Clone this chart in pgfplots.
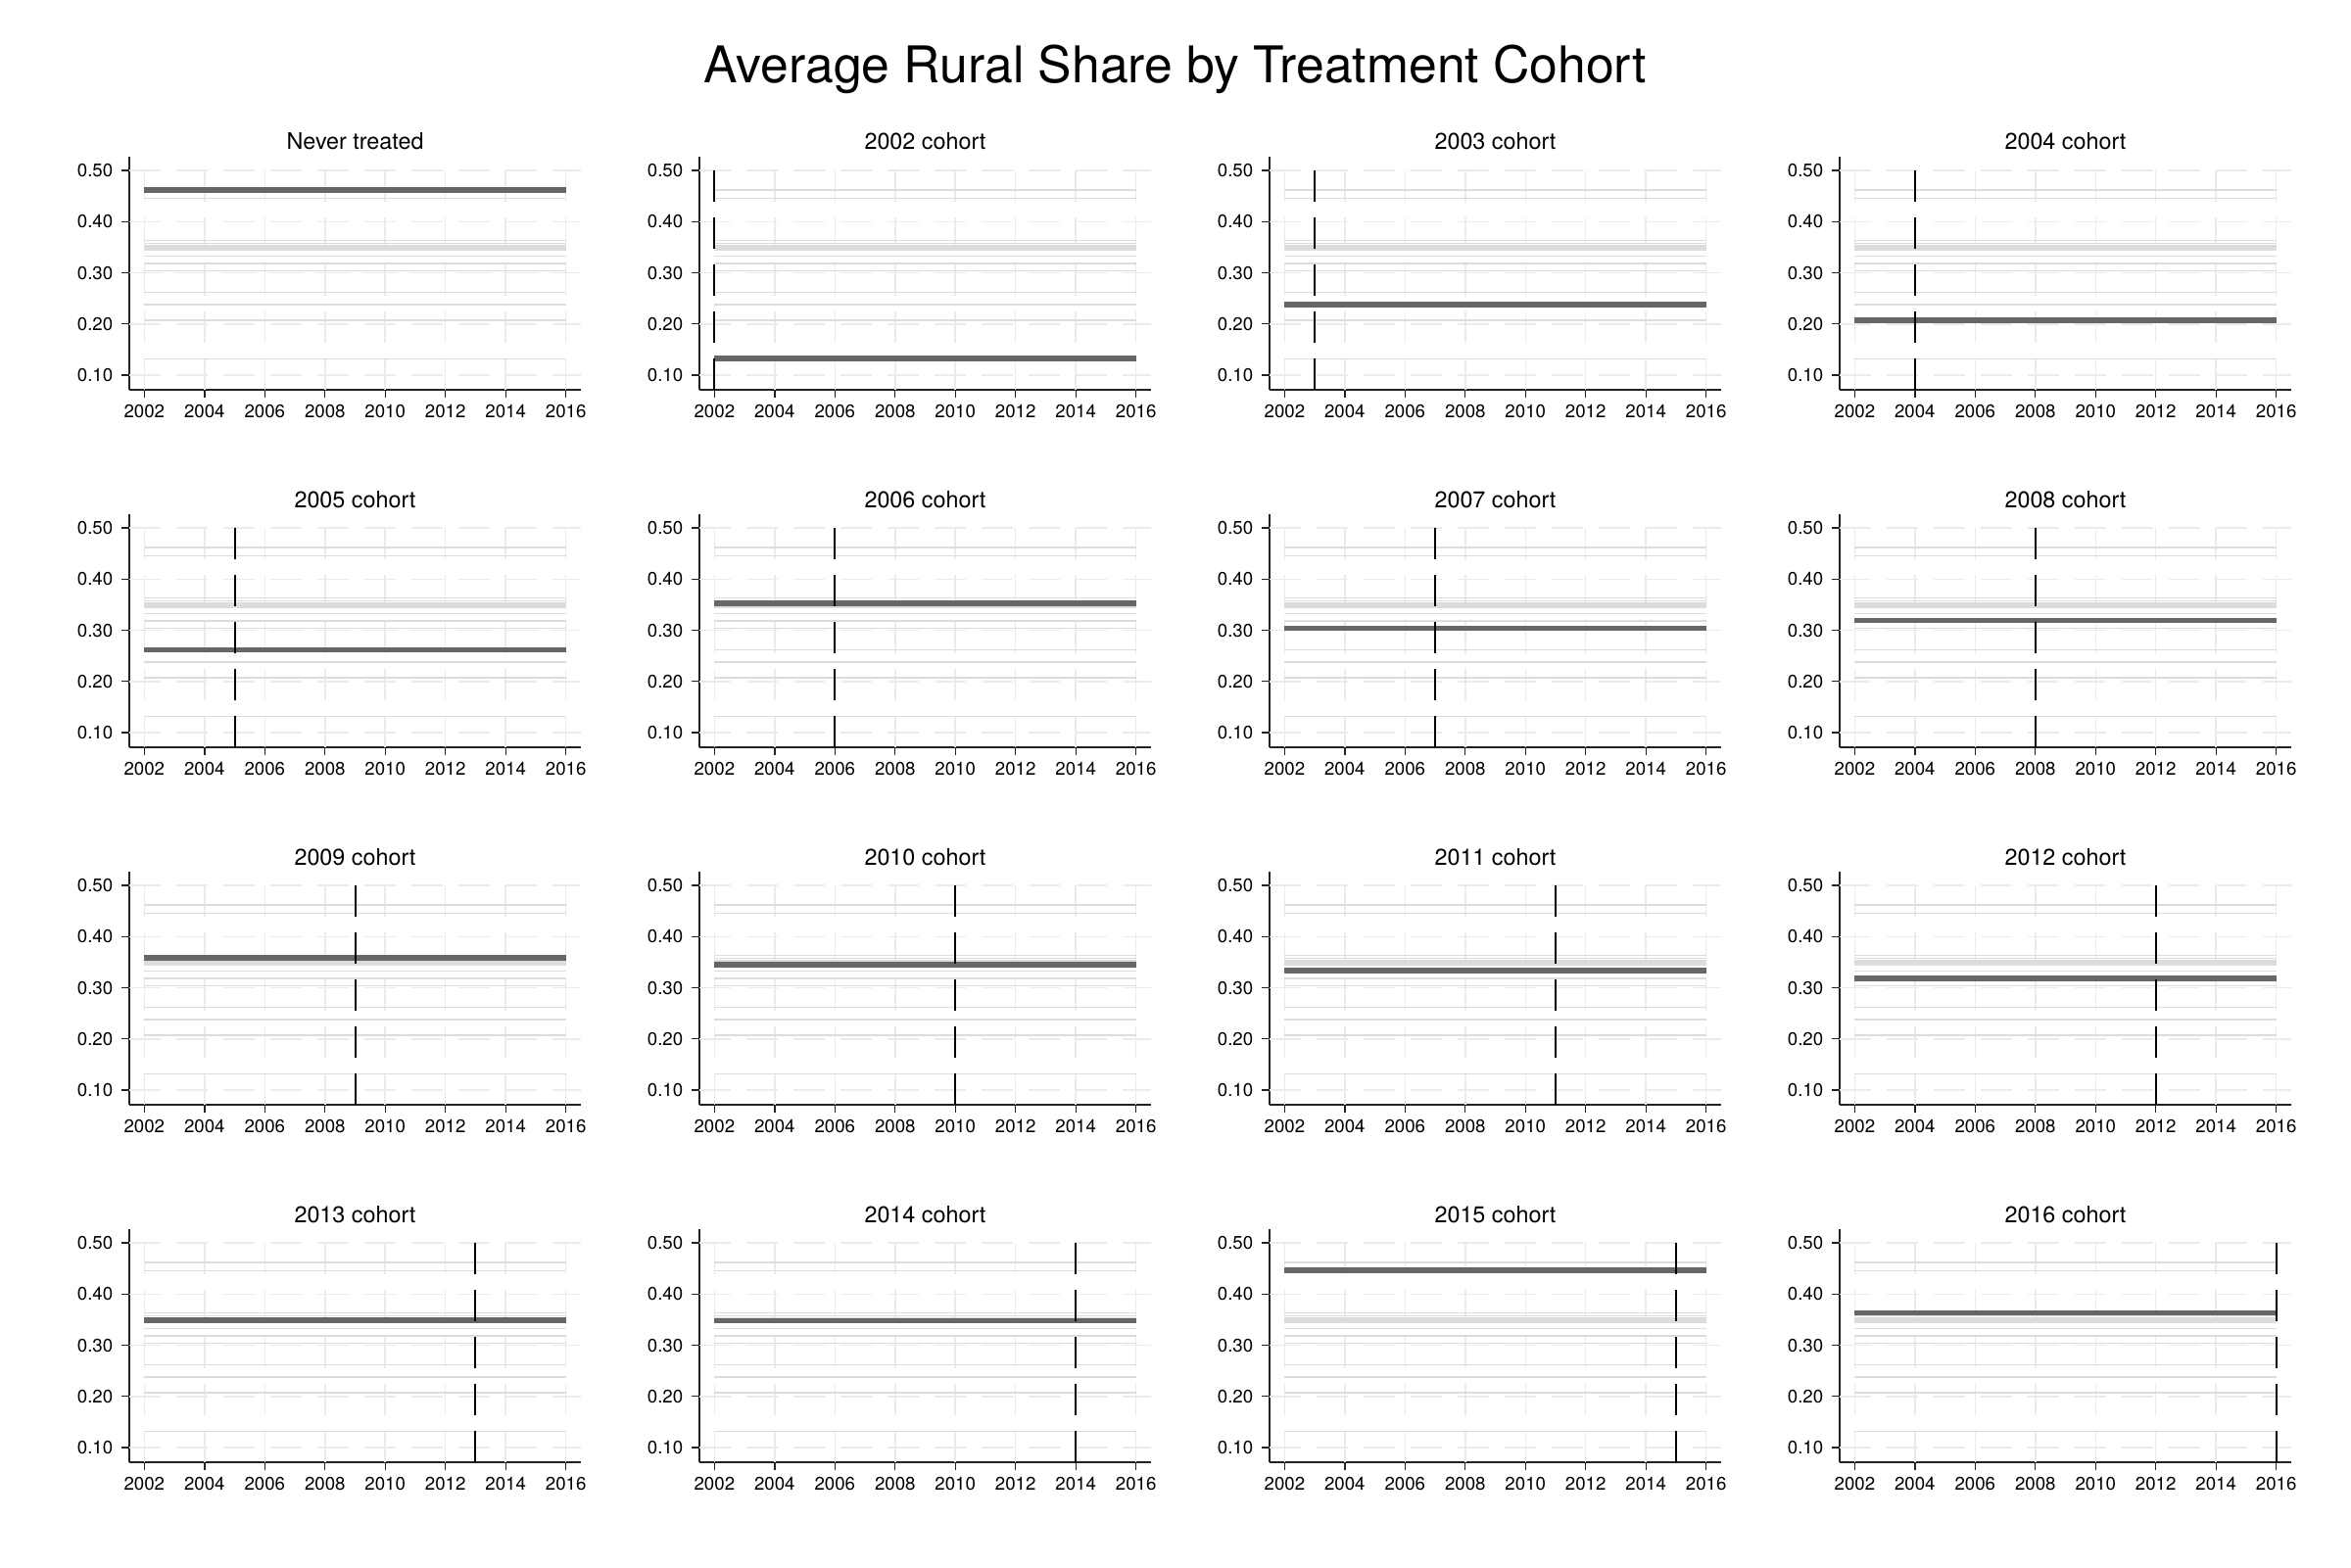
\documentclass[border=0pt]{standalone}
\usepackage{pgfplots}
\pgfplotsset{compat=1.18}
\usepackage{fontspec}
\setmainfont{TeX Gyre Heros}
\definecolor{gridc}{HTML}{EBEBEB}
\definecolor{linec}{HTML}{DCDCDC}
\definecolor{hic}{HTML}{666666}
\definecolor{axc}{HTML}{222222}
\tikzset{gridsty/.style={gridc, line width=0.45pt, dash pattern=on 9.45pt off 4.95pt}}
\newcommand{\ticksize}{\fontsize{5.6}{6.5}\selectfont}
\newcommand{\titlesize}{\fontsize{7}{8}\selectfont}

% cohort means (one horizontal line per cohort, 2002-2016)
\newcommand{\bglines}{%
\addplot[linec, line width=0.45pt] coordinates {(2002,0.462) (2016,0.462)};% never treated
\addplot[linec, line width=0.45pt] coordinates {(2002,0.132) (2016,0.132)};% 2002
\addplot[linec, line width=0.45pt] coordinates {(2002,0.238) (2016,0.238)};% 2003
\addplot[linec, line width=0.45pt] coordinates {(2002,0.207) (2016,0.207)};% 2004
\addplot[linec, line width=0.45pt] coordinates {(2002,0.262) (2016,0.262)};% 2005
\addplot[linec, line width=0.45pt] coordinates {(2002,0.353) (2016,0.353)};% 2006
\addplot[linec, line width=0.45pt] coordinates {(2002,0.304) (2016,0.304)};% 2007
\addplot[linec, line width=0.45pt] coordinates {(2002,0.319) (2016,0.319)};% 2008
\addplot[linec, line width=0.45pt] coordinates {(2002,0.358) (2016,0.358)};% 2009
\addplot[linec, line width=0.45pt] coordinates {(2002,0.345) (2016,0.345)};% 2010
\addplot[linec, line width=0.45pt] coordinates {(2002,0.333) (2016,0.333)};% 2011
\addplot[linec, line width=0.45pt] coordinates {(2002,0.318) (2016,0.318)};% 2012
\addplot[linec, line width=0.45pt] coordinates {(2002,0.349) (2016,0.349)};% 2013
\addplot[linec, line width=0.45pt] coordinates {(2002,0.348) (2016,0.348)};% 2014
\addplot[linec, line width=0.45pt] coordinates {(2002,0.446) (2016,0.446)};% 2015
\addplot[linec, line width=0.45pt] coordinates {(2002,0.363) (2016,0.363)};% 2016
}
\newcommand{\xl}[1]{\addplot[black, line width=0.6pt, dash pattern=on 9.45pt off 4.95pt] coordinates {(#1,0.50) (#1,0.0713)};}

\newcommand{\panel}[5]{%
\begin{axis}[at={(#1,#2)}, anchor=south west,
  scale only axis, width=138.3pt, height=71.4pt,
  xmin=2001.5, xmax=2016.5, ymin=0.0713, ymax=0.527,
  axis x line*=bottom, axis y line*=left,
  axis line style={-, line width=0.4pt, axc},
  tick align=outside, major tick length=2.4pt,
  tick style={line width=0.4pt, axc},
  xtick={2002,2004,2006,2008,2010,2012,2014,2016},
  xticklabels={2002,2004,2006,2008,2010,2012,2014,2016},
  ytick={0.1,0.2,0.3,0.4,0.5},
  yticklabels={0.10,0.20,0.30,0.40,0.50},
  ticklabel style={font=\ticksize},
  xticklabel style={yshift=1.4pt},
  yticklabel style={xshift=0.9pt},
  title={#3},
  title style={font=\titlesize, at={(axis description cs:0.5,1)}, anchor=base, yshift=-3.9pt},
  clip=false]
\pgfplotsinvokeforeach{2002,2004,2006,2008,2010,2012,2014,2016}{\draw[gridsty] (axis cs:##1,0.50) -- (axis cs:##1,0.0713);}
\pgfplotsinvokeforeach{0.10,0.20,0.30,0.40,0.50}{\draw[gridsty] (axis cs:2001.5,##1) -- (axis cs:2016.5,##1);}
\bglines
\addplot[hic, line width=1.7pt] coordinates {(2002,#4) (2016,#4)};
#5
\end{axis}}

\begin{document}
\begin{tikzpicture}
\path[use as bounding box] (0,0) rectangle (720pt,480pt);
\node[anchor=base, font=\fontsize{15.5}{18}\selectfont] at (360pt,454.5pt) {Average Rural Share by Treatment Cohort};
\panel{39.6pt}{360.6pt}{Never treated}{0.462}{}
\panel{214.2pt}{360.6pt}{2002 cohort}{0.132}{\xl{2002}}
\panel{388.8pt}{360.6pt}{2003 cohort}{0.238}{\xl{2003}}
\panel{563.4pt}{360.6pt}{2004 cohort}{0.207}{\xl{2004}}
\panel{39.6pt}{251.1pt}{2005 cohort}{0.262}{\xl{2005}}
\panel{214.2pt}{251.1pt}{2006 cohort}{0.353}{\xl{2006}}
\panel{388.8pt}{251.1pt}{2007 cohort}{0.304}{\xl{2007}}
\panel{563.4pt}{251.1pt}{2008 cohort}{0.319}{\xl{2008}}
\panel{39.6pt}{141.6pt}{2009 cohort}{0.358}{\xl{2009}}
\panel{214.2pt}{141.6pt}{2010 cohort}{0.345}{\xl{2010}}
\panel{388.8pt}{141.6pt}{2011 cohort}{0.333}{\xl{2011}}
\panel{563.4pt}{141.6pt}{2012 cohort}{0.318}{\xl{2012}}
\panel{39.6pt}{32.1pt}{2013 cohort}{0.349}{\xl{2013}}
\panel{214.2pt}{32.1pt}{2014 cohort}{0.348}{\xl{2014}}
\panel{388.8pt}{32.1pt}{2015 cohort}{0.446}{\xl{2015}}
\panel{563.4pt}{32.1pt}{2016 cohort}{0.363}{\xl{2016}}
\end{tikzpicture}
\end{document}
